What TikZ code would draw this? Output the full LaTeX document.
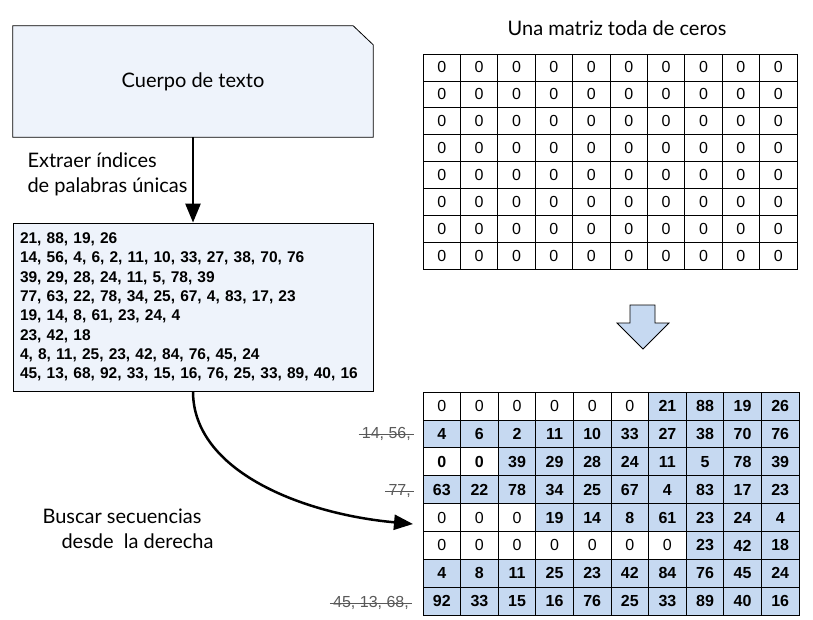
\documentclass[tikz,border=0pt]{standalone}
\usepackage{fontspec}
\setmainfont{Lato}
\newfontfamily\arialfont{Liberation Sans}
\usetikzlibrary{arrows.meta,calc}

\definecolor{boxfill}{HTML}{EEF3FB}
\definecolor{cellblue}{HTML}{C6D9F1}

\tikzset{
	flecha/.style = {line width=2.5pt, -{Triangle[length=19pt,width=15pt]}},
	etiqueta/.style = {font=\fontsize{20}{25}\selectfont, align=left},
	celda/.style = {draw, line width=0.8pt, inner sep=0pt, font=\arialfont\fontsize{16}{18}\selectfont},
	cero/.style = {celda, fill=white},
	cerobold/.style = {celda, fill=white, font=\arialfont\bfseries\fontsize{16}{18}\selectfont},
	lleno/.style = {celda, fill=cellblue, font=\arialfont\bfseries\fontsize{16}{18}\selectfont},
	tachado/.style = {text=black!65, inner xsep=3pt, font=\arialfont\fontsize{16}{18}\selectfont}
}

\begin{document}
\begin{tikzpicture}[x=1pt, y=-1pt]
	\useasboundingbox (0,0) rectangle (813,619);

	% cuerpo de texto (caja con esquina cortada)
	\node[minimum width=360pt, minimum height=111pt, inner sep=0pt] (cuerpo) at (193,81.5) {};
	\draw[fill=boxfill, line width=0.8pt] (cuerpo.north west) -- ([xshift=-20pt]cuerpo.north east)
		-- ([yshift=-19pt]cuerpo.north east) -- (cuerpo.south east) -- (cuerpo.south west) -- cycle;
	\node[font=\fontsize{20}{24}\selectfont] (titulo) at (cuerpo.center) {Cuerpo de texto};

	% lista de indices
	\node[draw, fill=boxfill, line width=0.8pt, minimum width=360pt, minimum height=168pt,
		text width=346pt, inner xsep=7pt, align=left,
		font=\arialfont\bfseries\fontsize{15.5}{19.3}\selectfont] (indices) at (193,307)
		{21, 88, 19, 26\\
		14, 56, 4, 6, 2, 11, 10, 33, 27, 38, 70, 76\\
		39, 29, 28, 24, 11, 5, 78, 39\\
		77, 63, 22, 78, 34, 25, 67, 4, 83, 17, 23\\
		19, 14, 8, 61, 23, 24, 4\\
		23, 42, 18\\
		4, 8, 11, 25, 23, 42, 84, 76, 45, 24\\
		45, 13, 68, 92, 33, 15, 16, 76, 25, 33, 89, 40, 16};

	\draw[flecha] (cuerpo.south) -- (indices.north);
	\node[etiqueta, anchor=west] (extraer) at (24,174) {Extraer índices\\de palabras únicas};

	% matriz de ceros
	\node[font=\fontsize{20}{24}\selectfont] (matriz) at (617,28) {Una matriz toda de ceros};
	\foreach \r in {1,...,8}
		\foreach \c in {1,...,10}
			\node[cero, minimum width=37.4pt, minimum height=26.9pt] (z-\r-\c)
				at ({423+37.4*(\c-0.5)},{54+26.9*(\r-0.5)}) {0};

	% flecha de bloque
	\draw[fill=cellblue, line width=0.8pt] (630,305) coordinate (bloque) -- (655,305) -- (655,323) -- (669,323)
		-- (643,349) -- (617,323) -- (630,323) -- cycle;

	% matriz rellena desde la derecha
	\foreach \r/\w/\wsty/\vals in {
		1/6/cero/{0,0,0,0,0,0,21,88,19,26},
		2/0/cero/{4,6,2,11,10,33,27,38,70,76},
		3/2/cerobold/{0,0,39,29,28,24,11,5,78,39},
		4/0/cero/{63,22,78,34,25,67,4,83,17,23},
		5/3/cero/{0,0,0,19,14,8,61,23,24,4},
		6/7/cero/{0,0,0,0,0,0,0,23,42,18},
		7/0/cero/{4,8,11,25,23,42,84,76,45,24},
		8/0/cero/{92,33,15,16,76,25,33,89,40,16}}
		\foreach \v [count=\c] in \vals {
			\ifnum\c>\w \def\sty{lleno}\else\edef\sty{\wsty}\fi
			\node[\sty, minimum width=37.6pt, minimum height=27.9pt] (b-\r-\c)
				at ({423+37.6*(\c-0.5)},{392+27.9*(\r-0.5)}) {\v};
		}

	% indices descartados
	\node[tachado, anchor=east] (t2) at (414,434) {14, 56,};
	\node[tachado, anchor=east] (t4) at (414,491) {77,};
	\node[tachado, anchor=east] (t8) at (412,603) {45, 13, 68,};
	\foreach \t in {t2,t4,t8}
		\draw[black!65, line width=0.8pt] (\t.west) -- (\t.east);

	% buscar secuencias
	\coordinate (fin) at (413,524);
	\draw[flecha] (indices.south) .. controls +(0,80) and +(-110,-10) .. (fin);
	\node[etiqueta, anchor=west] (buscar) at (39,529) {Buscar secuencias\\\hspace*{19pt}desde\ \ la derecha};
\end{tikzpicture}
\end{document}
